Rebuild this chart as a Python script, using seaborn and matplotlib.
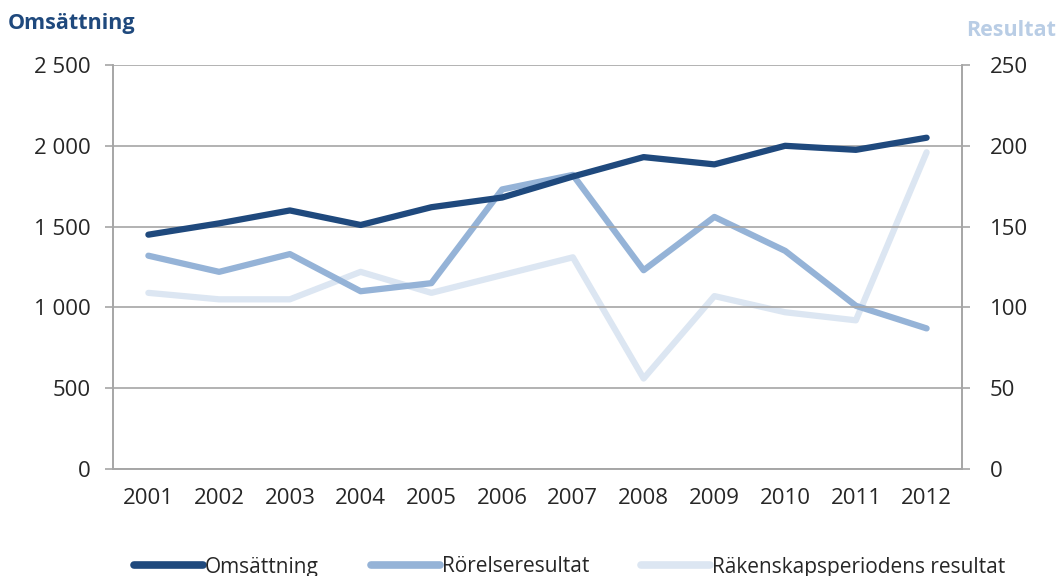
import matplotlib
matplotlib.use("Agg")
import matplotlib.pyplot as plt
import numpy as np
import pandas as pd
import seaborn as sns
from matplotlib.lines import Line2D
from matplotlib.ticker import FuncFormatter, FixedLocator

years = ["2001", "2002", "2003", "2004", "2005", "2006",
         "2007", "2008", "2009", "2010", "2011", "2012"]
omsattning = [1450, 1520, 1600, 1510, 1620, 1680, 1810, 1930, 1885, 2000, 1975, 2050]
rorelseresultat = [132, 122, 133, 110, 115, 173, 182, 123, 156, 135, 101, 87]
periodens_resultat = [109, 105, 105, 122, 109, 120, 131, 56, 107, 97, 92, 196]

DARK = "#1F497D"
MID = "#95B3D7"
LIGHT = "#DCE6F2"
GRID = "#A6A6A6"

sns.set_style("white")
plt.rcParams["font.family"] = ["Open Sans", "DejaVu Sans"]

df = pd.DataFrame({
    "x": np.arange(len(years)),
    "oms": omsattning,
    "ror": rorelseresultat,
    "per": periodens_resultat,
})

fig = plt.figure(figsize=(10.59, 5.76), dpi=100)
ax = fig.add_axes([113 / 1059, 1 - 469 / 576, 849 / 1059, 404 / 576])
ax2 = ax.twinx()

sns.lineplot(data=df, x="x", y="per", ax=ax2, color=LIGHT, linewidth=4.5)
sns.lineplot(data=df, x="x", y="ror", ax=ax2, color=MID, linewidth=4.5)
sns.lineplot(data=df, x="x", y="oms", ax=ax, color=DARK, linewidth=4.5, zorder=5)
ax.set_zorder(ax2.get_zorder() + 1)
ax.patch.set_visible(False)

ax.set_ylim(0, 2500)
ax2.set_ylim(0, 250)
ax.set_xlim(-0.5, len(years) - 0.5)

ax.set_yticks(np.arange(0, 2501, 500))
ax2.set_yticks(np.arange(0, 251, 50))
ax.yaxis.set_major_formatter(FuncFormatter(lambda v, p: f"{int(v):,}".replace(",", " ")))

ax.set_xticks(np.arange(len(years)))
ax.set_xticklabels(years)
ax.xaxis.set_minor_locator(FixedLocator(np.arange(-0.5, len(years), 1.0)))
ax.tick_params(axis="x", which="major", length=0, pad=14, labelsize=16)
ax.tick_params(axis="x", which="minor", length=6, width=1.2, color=GRID, direction="out")
ax.tick_params(axis="y", length=6, width=1.2, color=GRID, labelsize=16, pad=10)
ax2.tick_params(axis="y", length=6, width=1.2, color=GRID, labelsize=16, pad=14)

ax.grid(axis="y", color=GRID, linewidth=1.2)
ax.set_axisbelow(True)
for a in (ax, ax2):
    a.set_xlabel("")
    a.set_ylabel("")
    a.spines["top"].set_visible(False)
    for s in ("left", "right", "bottom"):
        a.spines[s].set_color(GRID)
        a.spines[s].set_linewidth(1.2)

fig.text(8 / 1059, 1 - 24 / 576, "Omsättning", color=DARK, fontsize=15.5,
         fontweight="bold", ha="left", va="center")
fig.text(1056 / 1059, 1 - 31 / 576, "Resultat", color="#B9CDE5", fontsize=15.5,
         fontweight="bold", ha="right", va="center")

handles = [
    Line2D([], [], color=DARK, linewidth=5.5, solid_capstyle="round"),
    Line2D([], [], color=MID, linewidth=5.5, solid_capstyle="round"),
    Line2D([], [], color=LIGHT, linewidth=5.5, solid_capstyle="round"),
]
labels = ["Omsättning", "Rörelseresultat", "Räkenskapsperiodens resultat"]
fig.legend(handles, labels, loc="center", bbox_to_anchor=(0.538, 1 - 567 / 576),
           ncol=3, frameon=False, fontsize=15, handlelength=3.3,
           handletextpad=0.1, columnspacing=2.5)

fig.savefig("out.png", dpi=100)
